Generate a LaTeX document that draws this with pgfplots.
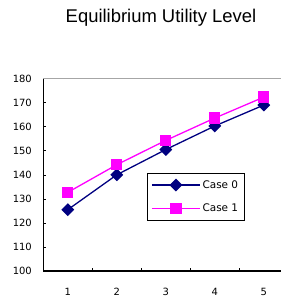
\documentclass[border=0pt]{standalone}
\usepackage{pgfplots}
\pgfplotsset{compat=1.18}
\usepackage{fontspec}
\setmainfont{Liberation Sans}
\newfontfamily\dvs{DejaVu Sans}
\definecolor{navy}{RGB}{0,0,128}
\definecolor{mag}{RGB}{255,0,255}
\begin{document}
\begin{tikzpicture}
\useasboundingbox (0,0) rectangle (281bp,300bp);
\node[font=\fontsize{18.5}{20}\selectfont, anchor=base, inner sep=0pt] at (161bp,277.3bp) {Equilibrium Utility Level};
\begin{axis}[
  at={(43.3bp,29bp)}, anchor=origin,
  scale only axis, width=245bp, height=192.4bp,
  xmin=0.5, xmax=5.5, ymin=100, ymax=180,
  axis x line*=bottom, axis y line*=left,
  axis line style={black, line width=1.2pt},
  xtick={1,2,3,4,5},
  minor xtick={1.5,2.5,3.5,4.5},
  major x tick style={draw=none},
  minor x tick style={black, line width=0.6pt},
  minor tick length=3bp,
  ytick={100,110,...,180},
  major tick length=3bp,
  y tick style={black, line width=0.6pt},
  tick align=inside,
  /pgf/number format/assume math mode=true,
  ticklabel style={font=\dvs\fontsize{10}{12}\selectfont},
  x tick label style={yshift=-14bp},
  y tick label style={xshift=-8bp},
  legend style={at={(0.423,0.509)}, anchor=north west, draw=black, line width=0.7pt,
    font=\dvs\fontsize{10.5}{12}\selectfont, row sep=10bp, inner xsep=4bp, inner ysep=5bp},
  legend cell align=left,
  legend image code/.code={\draw[#1, line width=1.3pt] (0bp,0bp) -- (48bp,0bp); \draw[#1, only marks] plot coordinates {(24bp,0bp)};},
  clip=false,
]
\draw[gray!70, line width=1pt] (rel axis cs:0,1) -- (rel axis cs:1,1);
\addplot[navy, line width=1.3pt, mark=square*, mark size=3.9bp, mark options={fill=navy, rotate=45}]
  coordinates {(1,125.5) (2,140) (3,150.5) (4,160.3) (5,169)};
\addlegendentry{Case 0}
\addplot[mag, line width=1.3pt, mark=square*, mark size=5bp, mark options={fill=mag}]
  coordinates {(1,132.7) (2,144.2) (3,154.3) (4,163.6) (5,172.3)};
\addlegendentry{Case 1}
\end{axis}
\end{tikzpicture}
\end{document}
